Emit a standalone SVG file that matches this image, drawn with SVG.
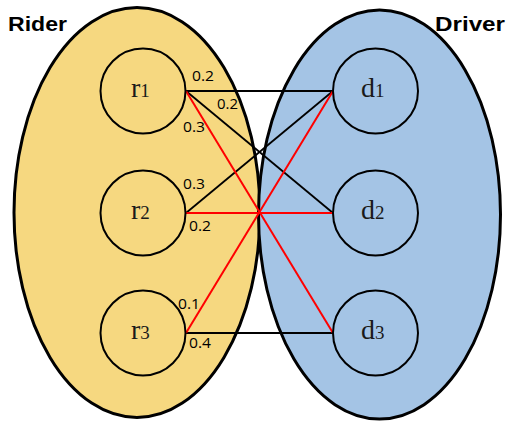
<svg xmlns="http://www.w3.org/2000/svg" width="509" height="421" viewBox="0 0 509 421">
<style>
.set{stroke:#000;stroke-width:3}
.node{fill:none;stroke:#000;stroke-width:2}
.lbl{font-family:"Liberation Serif","Times New Roman",serif;font-size:28px;fill:#1a1a1a}
.sub{font-size:19px}
.w{font-family:"Open Sans","DejaVu Sans",sans-serif;font-size:14.5px;fill:#000}
.title{font-family:"Liberation Sans",Arial,sans-serif;font-weight:bold;font-size:21px;fill:#000}
.blk{stroke:#000;stroke-width:1.8;fill:none}
.red{stroke:#f00;stroke-width:2;fill:none}
</style>
<rect width="509" height="421" fill="#fff"/>
<g id="rider-set">
<ellipse cx="137" cy="212.5" rx="123" ry="205" fill="#F6D880" class="set"/>
<text class="title" x="8" y="31" textLength="59" lengthAdjust="spacingAndGlyphs">Rider</text>
</g>
<g id="driver-set">
<ellipse cx="379.5" cy="214.5" rx="121" ry="204.5" fill="#A4C4E5" class="set"/>
<text class="title" x="435" y="31" textLength="70" lengthAdjust="spacingAndGlyphs">Driver</text>
</g>
<g id="connectors">
<line class="blk" x1="186" y1="91" x2="333" y2="91"/>
<line class="blk" x1="186" y1="91" x2="333" y2="213"/>
<line class="blk" x1="186" y1="213" x2="333" y2="91"/>
<line class="blk" x1="186" y1="333" x2="333" y2="333"/>
<line class="red" x1="186" y1="91" x2="333" y2="333"/>
<line class="red" x1="186" y1="213" x2="333" y2="213"/>
<line class="red" x1="186" y1="333" x2="333" y2="91"/>
<text class="w" x="192" y="81" textLength="22" lengthAdjust="spacingAndGlyphs">0.2</text>
<text class="w" x="217" y="109" textLength="21" lengthAdjust="spacingAndGlyphs">0.2</text>
<text class="w" x="183" y="132" textLength="22" lengthAdjust="spacingAndGlyphs">0.3</text>
<text class="w" x="183" y="189" textLength="22" lengthAdjust="spacingAndGlyphs">0.3</text>
<text class="w" x="189" y="231" textLength="22" lengthAdjust="spacingAndGlyphs">0.2</text>
<text class="w" x="178" y="309" textLength="22" lengthAdjust="spacingAndGlyphs">0.1</text>
<text class="w" x="189" y="348" textLength="22" lengthAdjust="spacingAndGlyphs">0.4</text>
</g>
<g id="r1"><circle class="node" cx="143" cy="91" r="42.5"/><text class="lbl" x="131" y="97">r<tspan class="sub">1</tspan></text></g>
<g id="r2"><circle class="node" cx="143" cy="213" r="42.5"/><text class="lbl" x="131" y="219">r<tspan class="sub">2</tspan></text></g>
<g id="r3"><circle class="node" cx="143" cy="333" r="42.5"/><text class="lbl" x="131" y="339">r<tspan class="sub">3</tspan></text></g>
<g id="d1"><circle class="node" cx="375.5" cy="91" r="42.5"/><text class="lbl" x="361" y="97">d<tspan class="sub">1</tspan></text></g>
<g id="d2"><circle class="node" cx="375.5" cy="213" r="42.5"/><text class="lbl" x="361" y="219">d<tspan class="sub">2</tspan></text></g>
<g id="d3"><circle class="node" cx="375.5" cy="333" r="42.5"/><text class="lbl" x="361" y="339">d<tspan class="sub">3</tspan></text></g>
</svg>
